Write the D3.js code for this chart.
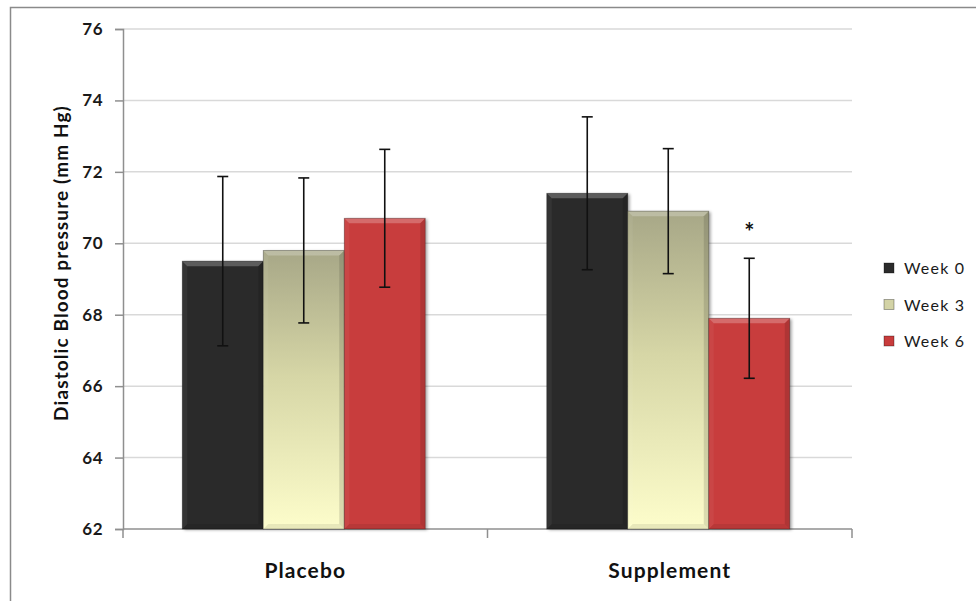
<!DOCTYPE html>
<html>
<head>
<meta charset="utf-8">
<script src="https://cdn.jsdelivr.net/npm/d3@7"></script>
<style>
  html, body { margin: 0; padding: 0; background: #fff; }
  svg { display: block; }
  text { font-family: Lato, "Open Sans", sans-serif; }
</style>
</head>
<body>
<svg id="chart" width="976" height="601"></svg>
<script>
// Diastolic blood pressure by group and week (mean ± error)
const categories = ["Placebo", "Supplement"];
const series = ["Week 0", "Week 3", "Week 6"];
const week0 = [69.5, 71.4];
const week3 = [69.8, 70.9];
const week6 = [70.7, 67.9];
const err0 = [2.37, 2.14];
const err3 = [2.03, 1.75];
const err6 = [1.93, 1.68];
const yTicks = [62, 64, 66, 68, 70, 72, 74, 76];
// significance marks (series index per category, or null)
const markers = [null, { series: 2, text: "*" }];

const values = [week0, week3, week6];
const errors = [err0, err3, err6];

const svg = d3.select("#chart");
const plot = { left: 123, right: 852, top: 29, bottom: 529 };

const x = d3.scaleBand().domain(categories).range([plot.left, plot.right]);
const groupW = x.bandwidth() * 3 / 4.5; // 150% gap width
const xs = d3.scaleBand().domain(series).range([0, groupW]);
const y = d3.scaleLinear().domain([62, 76]).range([plot.bottom, plot.top]);

const defs = svg.append("defs");
const grad3 = defs.append("linearGradient").attr("id", "g3")
  .attr("x1", 0).attr("y1", 0).attr("x2", 0).attr("y2", 1);
grad3.append("stop").attr("offset", "0%").attr("stop-color", "#a7a787");
grad3.append("stop").attr("offset", "45%").attr("stop-color", "#d6d6a6");
grad3.append("stop").attr("offset", "100%").attr("stop-color", "#fdfdcb");

const shadow = defs.append("filter").attr("id", "sh")
  .attr("x", "-10%").attr("y", "-5%").attr("width", "130%").attr("height", "115%");
shadow.append("feDropShadow").attr("dx", 2).attr("dy", 1).attr("stdDeviation", 1.6)
  .attr("flood-color", "#000").attr("flood-opacity", 0.35);

const fills = ["#2b2b2b", "url(#g3)", "#c83c3c"];
const legendFills = ["#2b2b2b", "#d3d3a6", "#c83c3c"];

// outer frame
svg.append("rect").attr("x", 10.5).attr("y", 7.5).attr("width", 990).attr("height", 620)
  .attr("fill", "none").attr("stroke", "#8a8a8a").attr("stroke-width", 1.5);

// gridlines
svg.append("g").selectAll("line").data(yTicks.filter(t => t !== 62)).join("line")
  .attr("x1", plot.left).attr("x2", plot.right)
  .attr("y1", d => y(d)).attr("y2", d => y(d))
  .attr("stroke", "#d9d9d9").attr("stroke-width", 1.5);

// y axis
const yAxis = svg.append("g").attr("transform", `translate(${plot.left},0)`)
  .call(d3.axisLeft(y).tickValues(yTicks).tickSize(8).tickPadding(12).tickFormat(d3.format("d")));
yAxis.select(".domain").attr("stroke", "#8f8f8f").attr("stroke-width", 1.5);
yAxis.selectAll(".tick line").attr("stroke", "#8f8f8f").attr("stroke-width", 1.5);
yAxis.selectAll(".tick text").attr("font-size", 17).attr("font-weight", "bold")
  .attr("fill", "#1a1a1a").attr("font-family", "Lato, sans-serif").attr("letter-spacing", 0.5);

// x axis with boundary ticks
const xg = svg.append("g");
xg.append("line").attr("x1", plot.left).attr("x2", plot.right)
  .attr("y1", plot.bottom).attr("y2", plot.bottom)
  .attr("stroke", "#8f8f8f").attr("stroke-width", 1.5);
const bounds = categories.map(c => x(c)).concat([x(categories[categories.length - 1]) + x.bandwidth()]);
xg.selectAll(".bt").data(bounds).join("line")
  .attr("x1", d => d).attr("x2", d => d)
  .attr("y1", plot.bottom).attr("y2", plot.bottom + 9)
  .attr("stroke", "#8f8f8f").attr("stroke-width", 1.5);
xg.selectAll("text").data(categories).join("text")
  .attr("x", d => x(d) + x.bandwidth() / 2).attr("y", 578)
  .attr("text-anchor", "middle").attr("font-size", 21).attr("font-weight", "bold")
  .attr("letter-spacing", 1.1).attr("fill", "#111").text(d => d);

// bars
const bars = [];
series.forEach((s, si) => {
  categories.forEach((c, ci) => {
    const x0 = x(c) + (x.bandwidth() - groupW) / 2 + xs(s) - 1.5;
    bars.push({ si, ci, x0, w: xs.bandwidth(), v: values[si][ci], e: errors[si][ci] });
  });
});

const barG = svg.append("g");
bars.forEach(b => {
  const g = barG.append("g");
  const top = y(b.v), bot = y(62), x0 = b.x0, x1 = b.x0 + b.w, k = 5;
  g.append("rect").attr("x", x0).attr("y", top).attr("width", b.w).attr("height", bot - top)
    .attr("fill", fills[b.si]).attr("filter", "url(#sh)");
  // bevel faces
  g.append("polygon").attr("points", [[x0, top], [x1, top], [x1 - k, top + k], [x0 + k, top + k]].join(" "))
    .attr("fill", "#fff").attr("opacity", 0.24);
  g.append("polygon").attr("points", [[x0, top], [x0 + k, top + k], [x0 + k, bot - k], [x0, bot]].join(" "))
    .attr("fill", "#fff").attr("opacity", 0.05);
  g.append("polygon").attr("points", [[x1, top], [x1 - k, top + k], [x1 - k, bot - k], [x1, bot]].join(" "))
    .attr("fill", "#000").attr("opacity", 0.12);
  g.append("polygon").attr("points", [[x0, bot], [x0 + k, bot - k], [x1 - k, bot - k], [x1, bot]].join(" "))
    .attr("fill", "#000").attr("opacity", 0.08);
  g.append("rect").attr("x", x0).attr("y", top).attr("width", b.w).attr("height", bot - top)
    .attr("fill", "none").attr("stroke", "#000").attr("stroke-opacity", 0.35).attr("stroke-width", 0.8);
});

// error bars
const errG = svg.append("g").attr("stroke", "#111").attr("stroke-width", 1.6);
bars.forEach(b => {
  const cx = b.x0 + b.w / 2;
  errG.append("line").attr("x1", cx).attr("x2", cx).attr("y1", y(b.v + b.e)).attr("y2", y(b.v - b.e));
  [b.v + b.e, b.v - b.e].forEach(v => {
    errG.append("line").attr("x1", cx - 5.5).attr("x2", cx + 5.5).attr("y1", y(v)).attr("y2", y(v));
  });
});

// significance marker
markers.forEach((m, ci) => {
  if (!m) return;
  const b = bars.find(d => d.ci === ci && d.si === m.series);
  svg.append("text").attr("x", b.x0 + b.w / 2).attr("y", y(b.v + b.e) - 17)
    .attr("text-anchor", "middle").attr("font-size", 24).attr("font-weight", "bold")
    .attr("fill", "#111").text(m.text);
});

// y title
svg.append("text").attr("transform", `translate(68,263) rotate(-90)`)
  .attr("text-anchor", "middle").attr("font-size", 19).attr("font-weight", "bold")
  .attr("letter-spacing", 1.1).attr("fill", "#111").text("Diastolic Blood pressure (mm Hg)");

// legend
const leg = svg.append("g").attr("transform", "translate(884,268)");
series.forEach((s, i) => {
  const g = leg.append("g").attr("transform", `translate(0,${i * 36.5})`);
  g.append("rect").attr("x", 0).attr("y", -5).attr("width", 10).attr("height", 10)
    .attr("fill", legendFills[i]).attr("stroke", "#000").attr("stroke-opacity", 0.4).attr("stroke-width", 0.8);
  g.append("text").attr("x", 20).attr("y", 6).attr("font-size", 16).attr("letter-spacing", 1.2)
    .attr("fill", "#1a1a1a").text(s);
});
</script>
</body>
</html>
